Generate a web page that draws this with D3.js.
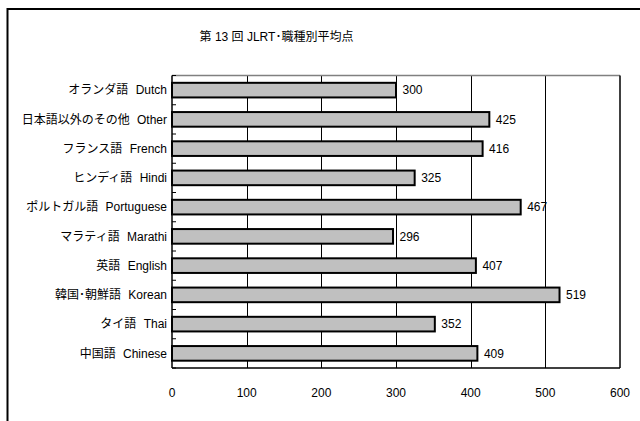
<!DOCTYPE html>
<html>
<head>
<meta charset="utf-8">
<script src="https://cdn.jsdelivr.net/npm/d3@7"></script>
<style>
  html, body { margin: 0; padding: 0; background: #fff; overflow: hidden; }
  svg { display: block; }
  text { font-family: "Liberation Sans", Arial, "Noto Sans CJK JP", sans-serif; fill: #000; }
</style>
</head>
<body>
<svg id="chart" width="640" height="421"></svg>
<script>
// Average score by occupation language group, 13th JLRT
const categories = [
  "オランダ語 Dutch",
  "日本語以外のその他 Other",
  "フランス語 French",
  "ヒンディ語 Hindi",
  "ポルトガル語 Portuguese",
  "マラティ語 Marathi",
  "英語 English",
  "韓国･朝鮮語 Korean",
  "タイ語 Thai",
  "中国語 Chinese"
];
const scores = [300, 425, 416, 325, 467, 296, 407, 519, 352, 409];
const xTicks = [0, 100, 200, 300, 400, 500, 600];
const title = "第 13 回 JLRT･職種別平均点";

const svg = d3.select("#chart");
const plot = { left: 172, right: 620, top: 75.5, bottom: 368 };
const fontSize = "12px";

// Outer chart frame (extends past the viewport on right and bottom)
svg.append("rect")
  .attr("x", 7.5).attr("y", 9)
  .attr("width", 700).attr("height", 500)
  .attr("fill", "#fff")
  .attr("stroke", "#000")
  .attr("stroke-width", 2);

svg.append("text")
  .attr("x", 276.5).attr("y", 37)
  .attr("dy", "0.35em")
  .attr("text-anchor", "middle")
  .style("font-size", fontSize)
  .text(title);

const x = d3.scaleLinear().domain([0, 600]).range([plot.left, plot.right]);
const y = d3.scaleBand().domain(categories)
  .range([plot.top, plot.bottom])
  .paddingInner(0.5).paddingOuter(0.25);

// Vertical gridlines
svg.append("g").selectAll("line")
  .data(xTicks.filter(d => d > 0 && d < 600))
  .join("line")
  .attr("x1", d => Math.round(x(d)) + 0.5).attr("x2", d => Math.round(x(d)) + 0.5)
  .attr("y1", plot.top).attr("y2", plot.bottom)
  .attr("stroke", "#000").attr("stroke-width", 1);

// Plot frame: grey top, black right/bottom
svg.append("line")
  .attr("x1", plot.left).attr("x2", plot.right)
  .attr("y1", plot.top).attr("y2", plot.top)
  .attr("stroke", "#808080").attr("stroke-width", 1.5);
svg.append("line")
  .attr("x1", plot.right).attr("x2", plot.right)
  .attr("y1", plot.top).attr("y2", plot.bottom)
  .attr("stroke", "#000").attr("stroke-width", 1.5);
svg.append("line")
  .attr("x1", plot.left).attr("x2", plot.right)
  .attr("y1", plot.bottom).attr("y2", plot.bottom)
  .attr("stroke", "#000").attr("stroke-width", 1.5);

// Bars
svg.append("g").selectAll("rect")
  .data(categories)
  .join("rect")
  .attr("x", x(0))
  .attr("y", d => y(d))
  .attr("width", (d, i) => x(scores[i]) - x(0))
  .attr("height", y.bandwidth())
  .attr("fill", "#c0c0c0")
  .attr("stroke", "#000")
  .attr("stroke-width", 2);

// Value labels
svg.append("g").selectAll("text")
  .data(categories)
  .join("text")
  .attr("x", (d, i) => x(scores[i]) + 6.5)
  .attr("y", d => y(d) + y.bandwidth() / 2)
  .attr("dy", "0.35em")
  .style("font-size", fontSize)
  .text((d, i) => scores[i]);

// Category axis with short inward ticks at band boundaries
const step = y.step();
svg.append("g").selectAll("line")
  .data(d3.range(categories.length + 1))
  .join("line")
  .attr("x1", plot.left).attr("x2", plot.left + 4)
  .attr("y1", i => plot.top + i * step).attr("y2", i => plot.top + i * step)
  .attr("stroke", "#000").attr("stroke-width", 1);
svg.append("line")
  .attr("x1", plot.left).attr("x2", plot.left)
  .attr("y1", plot.top).attr("y2", plot.bottom)
  .attr("stroke", "#000").attr("stroke-width", 1.5);

svg.append("g").selectAll("text")
  .data(categories)
  .join("text")
  .attr("x", plot.left - 5)
  .attr("y", d => y(d) + y.bandwidth() / 2)
  .attr("dy", "0.35em")
  .attr("text-anchor", "end")
  .style("font-size", fontSize)
  .style("word-spacing", "4px")
  .text(d => d);

// Value axis labels
svg.append("g").selectAll("text")
  .data(xTicks)
  .join("text")
  .attr("x", d => x(d))
  .attr("y", 393)
  .attr("dy", "0.35em")
  .attr("text-anchor", "middle")
  .style("font-size", fontSize)
  .text(d => d);
</script>
</body>
</html>
